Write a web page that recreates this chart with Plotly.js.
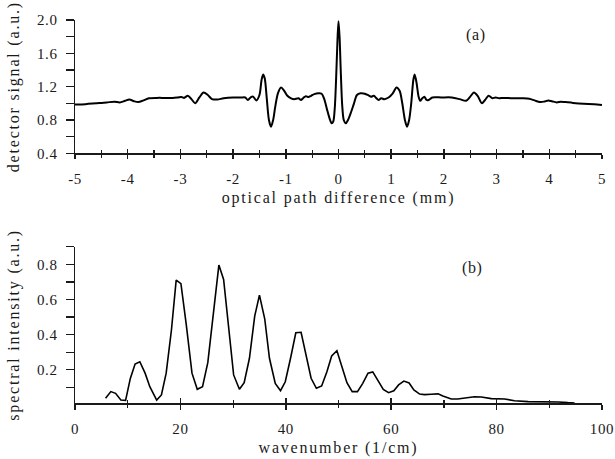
<!DOCTYPE html>
<html>
<head>
<meta charset="utf-8">
<script src="https://cdn.plot.ly/plotly-3.0.1.min.js"></script>
<style>
  html, body { margin: 0; padding: 0; background: #fff; }
  #chart { width: 615px; height: 459px; }
  .main-svg text { letter-spacing: 0.6px; }
  .main-svg text.xtitle, .main-svg text.x2title, .main-svg text.ytitle, .main-svg text.y2title { letter-spacing: 1.8px; }
</style>
</head>
<body>
<div id="chart"></div>
<script>
// ---- panel (a): interferogram ----
const opd = [
  -5.00, -4.80, -4.60, -4.40, -4.25, -4.15, -4.05, -3.97, -3.88, -3.80,
  -3.70, -3.60, -3.45, -3.30, -3.15, -3.05, -2.98, -2.93, -2.86, -2.79,
  -2.72, -2.64, -2.56, -2.48, -2.40, -2.30, -2.18, -2.00, -1.85, -1.77,
  -1.72, -1.66, -1.62, -1.56, -1.50, -1.46, -1.43, -1.40, -1.36, -1.32,
  -1.28, -1.24, -1.20, -1.15, -1.09, -1.03, -0.97, -0.90, -0.84, -0.76,
  -0.71, -0.66, -0.62, -0.57, -0.52, -0.46, -0.38, -0.32, -0.27, -0.22,
  -0.17, -0.13, -0.10, -0.07, -0.045, -0.02, 0.00, 0.02, 0.045, 0.07,
  0.10, 0.14, 0.18, 0.23, 0.29, 0.35, 0.42, 0.50, 0.57, 0.62,
  0.67, 0.72, 0.76, 0.81, 0.87, 0.95, 1.03, 1.10, 1.16, 1.21,
  1.26, 1.30, 1.34, 1.38, 1.42, 1.445, 1.48, 1.52, 1.55, 1.59,
  1.63, 1.67, 1.71, 1.78, 1.95, 2.15, 2.30, 2.42, 2.50, 2.57,
  2.64, 2.72, 2.78, 2.85, 2.92, 2.98, 3.05, 3.12, 3.30, 3.50,
  3.62, 3.72, 3.82, 3.90, 3.98, 4.05, 4.14, 4.22, 4.30, 4.45,
  4.65, 4.85, 5.00
];
const signal = [
  0.985, 0.990, 1.000, 1.010, 1.020, 1.010, 1.030, 1.045, 1.025, 1.015,
  1.035, 1.060, 1.065, 1.065, 1.065, 1.070, 1.075, 1.065, 1.090, 1.050,
  1.000, 1.070, 1.130, 1.100, 1.050, 1.045, 1.060, 1.070, 1.070, 1.070,
  1.040, 1.075, 1.080, 1.035, 1.100, 1.280, 1.345, 1.300, 1.050, 0.800,
  0.720, 0.800, 0.960, 1.120, 1.190, 1.150, 1.090, 1.060, 1.050, 1.060,
  1.040, 1.070, 1.085, 1.075, 1.090, 1.110, 1.120, 1.115, 1.050, 0.930,
  0.820, 0.760, 0.780, 0.950, 1.300, 1.750, 1.985, 1.800, 1.350, 0.980,
  0.800, 0.760, 0.800, 0.880, 0.990, 1.100, 1.120, 1.115, 1.095, 1.080,
  1.090, 1.060, 1.040, 1.060, 1.050, 1.070, 1.120, 1.190, 1.150, 1.000,
  0.800, 0.720, 0.800, 1.000, 1.280, 1.345, 1.250, 1.080, 1.030, 1.060,
  1.080, 1.040, 1.040, 1.070, 1.070, 1.070, 1.050, 1.030, 1.080, 1.130,
  1.090, 1.000, 1.040, 1.090, 1.060, 1.070, 1.060, 1.065, 1.060, 1.060,
  1.055, 1.035, 1.015, 1.020, 1.035, 1.025, 1.010, 1.020, 1.015, 1.005,
  0.995, 0.990, 0.980
];

// ---- panel (b): spectrum ----
const wavenumber = [
  5.8, 6.8, 7.7, 8.7, 9.6, 10.5, 11.4, 12.3, 13.3, 14.2,
  15.5, 16.4, 17.3, 18.3, 19.2, 20.1, 21.1, 22.2, 23.2, 24.2,
  25.2, 26.3, 27.3, 28.2, 29.2, 30.1, 31.2, 32.1, 33.1, 34.1,
  35.0, 36.0, 36.9, 38.0, 39.0, 39.9, 40.9, 41.9, 42.9, 43.8,
  44.8, 45.8, 46.8, 47.8, 48.7, 49.7, 50.6, 51.6, 52.6, 53.6,
  54.6, 55.6, 56.5, 57.6, 58.5, 59.5, 60.5, 61.4, 62.4, 63.4,
  64.3, 65.4, 66.3, 67.6, 68.9, 69.8, 71.4, 72.6, 73.9, 75.8,
  77.1, 79.0, 81.5, 83.4, 86.0, 89.1, 91.7, 93.5, 94.8
];
const intensity = [
  0.037, 0.075, 0.065, 0.027, 0.025, 0.150, 0.232, 0.245, 0.180, 0.103,
  0.027, 0.056, 0.180, 0.426, 0.710, 0.690, 0.460, 0.180, 0.088, 0.103,
  0.240, 0.530, 0.796, 0.714, 0.416, 0.170, 0.088, 0.126, 0.265, 0.505,
  0.625, 0.490, 0.265, 0.122, 0.080, 0.131, 0.265, 0.410, 0.413, 0.283,
  0.151, 0.094, 0.107, 0.188, 0.278, 0.308, 0.227, 0.126, 0.075, 0.075,
  0.122, 0.180, 0.187, 0.131, 0.088, 0.069, 0.080, 0.113, 0.135, 0.124,
  0.084, 0.061, 0.058, 0.060, 0.062, 0.050, 0.033, 0.033, 0.039, 0.046,
  0.044, 0.035, 0.033, 0.023, 0.018, 0.018, 0.016, 0.012, 0.010
];

// ---- tick labels ----
const opdTickVals = [-5, -4, -3, -2, -1, 0, 1, 2, 3, 4, 5];
const opdTickText = ["-5", "-4", "-3", "-2", "-1", "0", "1", "2", "3", "4", "5"];
const signalTickVals = [0.4, 0.8, 1.2, 1.6, 2.0];
const signalTickText = ["0.4", "0.8", "1.2", "1.6", "2.0"];
const waveTickVals = [0, 20, 40, 60, 80, 100];
const waveTickText = ["0", "20", "40", "60", "80", "100"];
const intensityTickVals = [0.2, 0.4, 0.6, 0.8];
const intensityTickText = ["0.2", "0.4", "0.6", "0.8"];

const FONT = "Liberation Serif";
const INK = "#1a1a1a";

const traces = [
  { x: opd, y: signal, xaxis: "x", yaxis: "y", type: "scatter", mode: "lines",
    line: { color: "#000", width: 2, shape: "spline", smoothing: 0.8 }, hoverinfo: "skip" },
  { x: wavenumber, y: intensity, xaxis: "x2", yaxis: "y2", type: "scatter", mode: "lines",
    line: { color: "#000", width: 1.6 }, hoverinfo: "skip" },
  // empty traces so the inward-tick overlay axes exist
  { x: [], y: [], xaxis: "x3", yaxis: "y", type: "scatter", mode: "lines", hoverinfo: "skip" },
  { x: [], y: [], xaxis: "x4", yaxis: "y2", type: "scatter", mode: "lines", hoverinfo: "skip" }
];

const axisBase = {
  showgrid: false, zeroline: false, showline: true, linecolor: INK, linewidth: 1.5,
  tickcolor: INK, tickwidth: 1.5, tickfont: { family: FONT, size: 15, color: INK },
  ticks: "outside", fixedrange: true, ticklabeloverflow: "allow"
};

const layout = {
  width: 615, height: 459,
  margin: { l: 75, r: 13, t: 20, b: 56 },
  paper_bgcolor: "#fff", plot_bgcolor: "#fff",
  showlegend: false,
  font: { family: FONT, size: 16, color: INK },
  xaxis: Object.assign({}, axisBase, {
    domain: [0, 1], anchor: "y", range: [-5, 5],
    tickmode: "array", tickvals: opdTickVals, ticktext: opdTickText, ticklen: 4,
    minor: { tickmode: "linear", tick0: -4.5, dtick: 1, ticks: "outside", ticklen: 3, tickcolor: INK, tickwidth: 1.2 },
    ticklabelstandoff: 7,
    title: { text: "optical path difference (mm)", font: { family: FONT, size: 16, color: INK }, standoff: 6 }
  }),
  xaxis3: Object.assign({}, axisBase, {
    overlaying: "x", anchor: "y", side: "bottom", range: [-5, 5], showline: false,
    tickmode: "array", tickvals: opdTickVals, ticks: "inside", ticklen: 4, showticklabels: false,
    minor: { tickmode: "linear", tick0: -4.5, dtick: 1, ticks: "inside", ticklen: 3, tickcolor: INK, tickwidth: 1.2 }
  }),
  yaxis: Object.assign({}, axisBase, {
    domain: [0.652, 1], anchor: "x", range: [0.4, 2.0],
    tickmode: "array", tickvals: signalTickVals, ticktext: signalTickText, ticklen: 8,
    minor: { tickmode: "linear", tick0: 0.2, dtick: 0.4, ticks: "outside", ticklen: 8, tickcolor: INK, tickwidth: 1.2 },
    ticklabelstandoff: 5,
    title: { text: "detector signal (a.u.)", font: { family: FONT, size: 16, color: INK }, standoff: 15 }
  }),
  xaxis2: Object.assign({}, axisBase, {
    domain: [0, 1], anchor: "y2", range: [0, 100],
    tickmode: "array", tickvals: waveTickVals, ticktext: waveTickText, ticklen: 5,
    minor: { tickmode: "linear", tick0: 10, dtick: 20, ticks: "outside", ticklen: 3, tickcolor: INK, tickwidth: 1.2 },
    ticklabelstandoff: 6,
    title: { text: "wavenumber (1/cm)", font: { family: FONT, size: 16, color: INK }, standoff: 6 }
  }),
  xaxis4: Object.assign({}, axisBase, {
    overlaying: "x2", anchor: "y2", side: "bottom", range: [0, 100], showline: false,
    tickmode: "array", tickvals: waveTickVals, ticks: "inside", ticklen: 5, showticklabels: false,
    minor: { tickmode: "linear", tick0: 10, dtick: 20, ticks: "inside", ticklen: 3, tickcolor: INK, tickwidth: 1.2 }
  }),
  yaxis2: Object.assign({}, axisBase, {
    domain: [0, 0.408], anchor: "x2", range: [0.01, 0.9005],
    tickmode: "array", tickvals: intensityTickVals, ticktext: intensityTickText, ticklen: 8,
    minor: { tickmode: "linear", tick0: 0.1, dtick: 0.2, ticks: "outside", ticklen: 8, tickcolor: INK, tickwidth: 1.2 },
    ticklabelstandoff: 5,
    title: { text: "spectral intensity (a.u.)", font: { family: FONT, size: 16, color: INK }, standoff: 15 }
  }),
  annotations: [
    { text: "(a)", xref: "x", yref: "y", x: 2.6, y: 1.82, showarrow: false,
      font: { family: FONT, size: 16, color: INK } },
    { text: "(b)", xref: "x2", yref: "y2", x: 75.5, y: 0.78, showarrow: false,
      font: { family: FONT, size: 16, color: INK } }
  ]
};

Plotly.newPlot("chart", traces, layout, { staticPlot: true, displayModeBar: false });
</script>
</body>
</html>
